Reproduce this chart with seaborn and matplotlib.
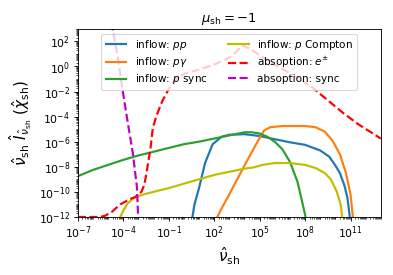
import numpy as np
import matplotlib
matplotlib.use("Agg")
import matplotlib.pyplot as plt
import matplotlib.ticker as mticker
import seaborn as sns

# log10 values (x = nu_sh, y = nu I_nu)
pp_x = [0.5, 0.7, 1.0, 1.4, 1.9, 2.5, 3.0, 4.0, 5.0, 6.0, 7.0, 8.0, 9.0, 9.6, 10.0, 10.3, 10.6, 10.8, 11.0]
pp_y = [-12.5, -11.0, -9.7, -7.7, -6.2, -5.6, -5.45, -5.4, -5.55, -5.8, -6.05, -6.25, -6.7, -7.2, -7.9, -8.5, -9.5, -10.5, -12.5]

pg_x = [2.0, 2.5, 3.0, 4.0, 4.5, 5.0, 5.3, 5.7, 6.5, 8.0, 8.7, 9.3, 9.8, 10.3, 10.7, 11.0, 11.2]
pg_y = [-12.5, -11.3, -10.2, -7.9, -6.8, -5.7, -5.1, -4.85, -4.75, -4.75, -4.85, -5.2, -5.9, -7.0, -8.5, -10.2, -12.5]

psync_x = [-7, -6, -5, -4, -3, -2, -1, 0, 1, 2, 3, 4, 4.5, 5, 5.5, 6, 6.5, 7, 7.5, 8, 8.1]
psync_y = [-8.75, -8.25, -7.85, -7.45, -7.1, -6.8, -6.5, -6.2, -6.0, -5.75, -5.5, -5.25, -5.25, -5.35, -5.6, -6.0, -6.6, -7.6, -9.2, -11.8, -12.5]

pcomp_x = [-4.4, -4.0, -3.7, -3.3, -2.8, -2, -1, 0, 1, 2, 3, 4, 4.6, 5.2, 6, 7, 8, 8.7, 9.3, 9.7, 10.1, 10.35, 10.5]
pcomp_y = [-12.5, -11.5, -10.9, -10.5, -10.25, -10.0, -9.7, -9.35, -9.0, -8.65, -8.4, -8.15, -8.05, -7.85, -7.7, -7.7, -7.85, -8.1, -8.5, -9.0, -10.0, -11.0, -12.5]

abs_pm_x = [-7, -6.6, -5.5, -5.2, -4.76, -4.2, -3.6, -3.2, -2.8, -2.6, -2.4, -2.2, -2.05, -1.8, -1.4, -1.0, -0.5, 0, 1, 2, 3, 3.5, 3.85, 4.5, 5.5, 6.5, 7.5, 8.5, 9.5, 10.5, 11.5, 13]
abs_pm_y = [-12.0, -12.0, -12.0, -11.9, -11.6, -11.0, -10.6, -10.4, -10.0, -9.4, -8.0, -6.5, -4.9, -3.9, -2.7, -1.8, -1.0, -0.6, -0.25, 0.15, 0.7, 1.2, 1.7, 1.3, 0.5, -0.2, -0.9, -1.7, -2.7, -3.7, -4.6, -5.75]

abs_sync_x = [-4.8, -4.7, -4.36, -4.03, -3.7, -3.37, -3.1, -3.0]
abs_sync_y = [3.5, 3.0, 0.7, -2.0, -4.5, -6.9, -9.6, -12.5]

series = [
    (pp_x, pp_y, "C0", "-", r"inflow: $pp$"),
    (pg_x, pg_y, "C1", "-", r"inflow: $p\gamma$"),
    (psync_x, psync_y, "C2", "-", r"inflow: $p$ sync"),
    (pcomp_x, pcomp_y, "y", "-", r"inflow: $p$ Compton"),
    (abs_pm_x, abs_pm_y, "r", "--", r"absoption: $e^{\pm}$"),
    (abs_sync_x, abs_sync_y, "m", "--", r"absoption: sync"),
]

fig = plt.figure(figsize=(5, 3.5), dpi=78.6)
ax = fig.add_axes([0.198, 0.211, 0.771, 0.684])

for xs, ys, c, ls, lab in series:
    sns.lineplot(x=10.0 ** np.array(xs), y=10.0 ** np.array(ys), color=c,
                 linestyle=ls, linewidth=2, label=lab, sort=False, ax=ax)

ax.set_xscale("log")
ax.set_yscale("log")
ax.set_xlim(1e-7, 1e13)
ax.set_ylim(1e-12, 1e3)

ax.xaxis.set_major_locator(mticker.FixedLocator([10.0 ** k for k in range(-7, 13, 3)]))
ax.xaxis.set_minor_locator(mticker.LogLocator(base=10, subs=np.arange(1, 10), numticks=100))
ax.yaxis.set_major_locator(mticker.FixedLocator([10.0 ** k for k in range(-12, 3, 2)]))
ax.yaxis.set_minor_locator(mticker.LogLocator(base=10, subs=np.arange(1, 10), numticks=100))
ax.xaxis.set_minor_formatter(mticker.NullFormatter())
ax.yaxis.set_minor_formatter(mticker.NullFormatter())

ax.set_title(r"$\mu_{\rm sh} = -1$", fontsize=12)
ax.set_xlabel(r"$\hat{\nu}_{\rm sh}$", fontsize=14)
ax.set_ylabel(r"$\hat{\nu}_{\rm sh}\ \hat{I}_{\hat{\nu}_{\rm sh}}\ (\hat{\chi}_{\rm sh})$", fontsize=14)
ax.legend(loc="upper center", ncol=2, fontsize=9.5, labelspacing=0.3)

fig.savefig("out.png", dpi=78.6)
